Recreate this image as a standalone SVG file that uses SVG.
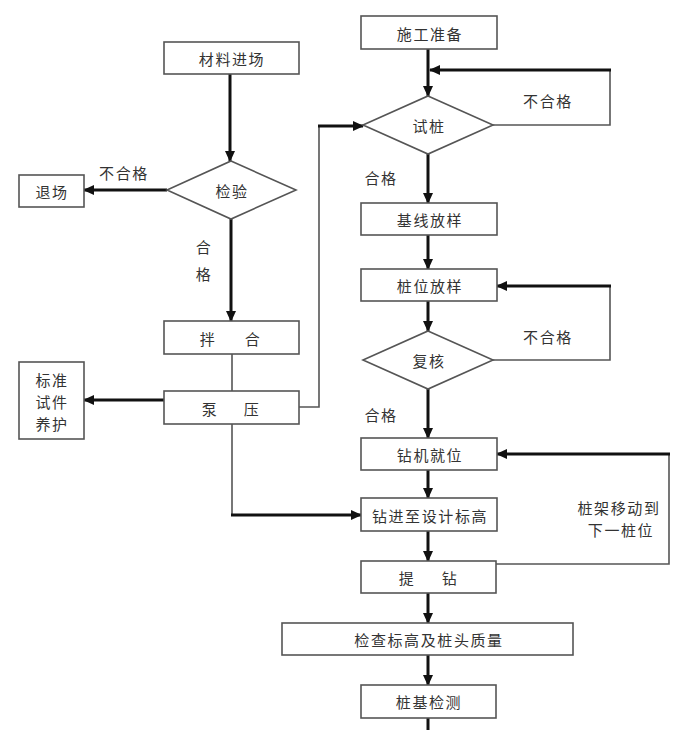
<svg xmlns="http://www.w3.org/2000/svg" width="691" height="756" viewBox="0 0 691 756">
<style>
.box{fill:#fff;stroke:#555;stroke-width:1.6}
.t{font-family:"Noto Sans CJK SC","Noto Sans",sans-serif;font-size:15px;letter-spacing:1.6px;fill:#333;text-anchor:middle;dominant-baseline:central}
.lbl{font-family:"Noto Sans CJK SC","Noto Sans",sans-serif;font-size:15px;letter-spacing:1.6px;fill:#333;text-anchor:middle;dominant-baseline:central}
.thick{fill:none;stroke:#111;stroke-width:3}
.thin{fill:none;stroke:#555;stroke-width:1.6}
.arr{marker-end:url(#ah)}
</style>
<defs>
<marker id="ah" markerUnits="userSpaceOnUse" markerWidth="11" markerHeight="10" refX="10" refY="5" orient="auto">
<path d="M0,0 L11,5 L0,10 z" fill="#111"/>
</marker>
</defs>
<rect width="691" height="756" fill="#fff"/>
<g id="connectors">
<path class="thick arr" d="M230,74 V161"/>
<path class="thick arr" d="M167,190 H84"/>
<path class="thick arr" d="M231,219 V321"/>
<path class="thin" d="M232,354 V391"/>
<path class="thick arr" d="M164,400 H84"/>
<path class="thin" d="M299,407 H319 V126"/>
<path class="thick arr" d="M318,126 H363"/>
<path class="thin" d="M232,424 V515"/>
<path class="thick arr" d="M231,515 H361"/>
<path class="thick arr" d="M428,49 V96"/>
<path class="thin" d="M493,125 H610 V70"/>
<path class="thick arr" d="M611,70 H430"/>
<path class="thick arr" d="M428,154 V203"/>
<path class="thick arr" d="M428,235 V269"/>
<path class="thick arr" d="M428,301 V331"/>
<path class="thin" d="M493,360 H610 V286"/>
<path class="thick arr" d="M611,286 H497"/>
<path class="thick arr" d="M428,389 V438"/>
<path class="thick arr" d="M428,470 V498"/>
<path class="thick arr" d="M428,531 V561"/>
<path class="thin" d="M496,564 H669 V454"/>
<path class="thick arr" d="M670,454 H497"/>
<path class="thick arr" d="M428,593 V623"/>
<path class="thick arr" d="M428,655 V685"/>
<path class="thick" d="M428,718 V730"/>
</g>
<g id="labels">
<text class="lbl" x="124" y="172">不合格</text>
<text class="lbl" x="204" y="246">合</text>
<text class="lbl" x="204" y="273">格</text>
<text class="lbl" x="548" y="100">不合格</text>
<text class="lbl" x="381" y="177">合格</text>
<text class="lbl" x="548" y="336">不合格</text>
<text class="lbl" x="381" y="414">合格</text>
<text class="lbl" x="619" y="507">桩架移动到</text>
<text class="lbl" x="621" y="529">下一桩位</text>
</g>
<g id="n-cailiao"><rect class="box" x="164" y="42" width="135" height="32"/><text class="t" x="232" y="58">材料进场</text></g>
<g id="n-jianyan"><polygon class="box" points="231,161 296,190 231,219 167,190"/><text class="t" x="232" y="190">检验</text></g>
<g id="n-tuichang"><rect class="box" x="19" y="175" width="65" height="32"/><text class="t" x="52" y="191">退场</text></g>
<g id="n-banhe"><rect class="box" x="164" y="321" width="135" height="33"/><text class="t" y="338"><tspan x="208">拌</tspan><tspan x="253">合</tspan></text></g>
<g id="n-bengya"><rect class="box" x="164" y="391" width="135" height="33"/><text class="t" y="408"><tspan x="210">泵</tspan><tspan x="252">压</tspan></text></g>
<g id="n-biaozhun"><rect class="box" x="19" y="362" width="65" height="77"/><text class="t" x="52" y="379">标准</text><text class="t" x="52" y="401">试件</text><text class="t" x="52" y="423">养护</text></g>
<g id="n-shigong"><rect class="box" x="361" y="16" width="136" height="33"/><text class="t" x="430" y="33">施工准备</text></g>
<g id="n-shizhuang"><polygon class="box" points="428,96 493,125 428,154 363,125"/><text class="t" x="429" y="125">试桩</text></g>
<g id="n-jixian"><rect class="box" x="361" y="203" width="136" height="32"/><text class="t" x="430" y="219">基线放样</text></g>
<g id="n-zhuangwei"><rect class="box" x="361" y="269" width="136" height="32"/><text class="t" x="430" y="285">桩位放样</text></g>
<g id="n-fuhe"><polygon class="box" points="428,331 493,360 428,389 363,360"/><text class="t" x="429" y="360">复核</text></g>
<g id="n-zuanji"><rect class="box" x="361" y="438" width="136" height="32"/><text class="t" x="430" y="454">钻机就位</text></g>
<g id="n-zuanjin"><rect class="box" x="361" y="498" width="136" height="33"/><text class="t" x="430" y="515">钻进至设计标高</text></g>
<g id="n-tizuan"><rect class="box" x="361" y="561" width="135" height="32"/><text class="t" y="577"><tspan x="407">提</tspan><tspan x="450">钻</tspan></text></g>
<g id="n-jiancha"><rect class="box" x="282" y="623" width="291" height="32"/><text class="t" x="429" y="639">检查标高及桩头质量</text></g>
<g id="n-zhuangji"><rect class="box" x="361" y="685" width="135" height="33"/><text class="t" x="429" y="701">桩基检测</text></g>
</svg>
